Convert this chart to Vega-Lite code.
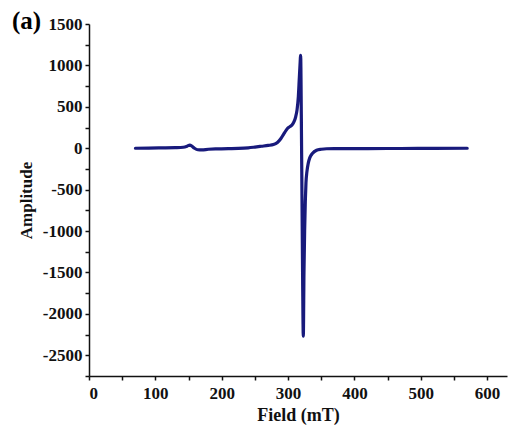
{
  "$schema": "https://vega.github.io/schema/vega-lite/v6.json",
  "autosize": "none",
  "width": 418,
  "height": 352,
  "padding": {"left": 89, "top": 24, "right": 1, "bottom": 53},
  "background": "white",
  "title": {"text": "(a)", "anchor": "start", "frame": "group", "orient": "top", "offset": 0, "dx": -77, "dy": 39, "baseline": "alphabetic", "font": "Liberation Serif", "fontSize": 25, "fontWeight": "bold", "color": "black"},
  "config": {
    "view": {"stroke": null},
    "axis": {
      "grid": false,
      "domainColor": "#111",
      "domainWidth": 1.5,
      "tickColor": "#111",
      "tickWidth": 1.5,
      "tickSize": 4,
      "labelFont": "Liberation Serif",
      "labelFontSize": 17,
      "labelFontWeight": "bold",
      "labelColor": "#111",
      "titleFont": "Liberation Serif",
      "titleFontSize": 17,
      "titleFontWeight": "bold",
      "titleColor": "#111"
    }
  },
  "data": {"values": [
    {"field": 70, "amp": 0}, {"field": 90, "amp": 2}, {"field": 110, "amp": 4}, {"field": 130, "amp": 7},
    {"field": 142, "amp": 12}, {"field": 148, "amp": 25}, {"field": 152, "amp": 38}, {"field": 155, "amp": 25},
    {"field": 159, "amp": 0}, {"field": 164, "amp": -18}, {"field": 170, "amp": -20}, {"field": 180, "amp": -12},
    {"field": 195, "amp": -8}, {"field": 210, "amp": -5}, {"field": 225, "amp": -2}, {"field": 240, "amp": 5},
    {"field": 250, "amp": 14}, {"field": 260, "amp": 24}, {"field": 270, "amp": 34}, {"field": 278, "amp": 45},
    {"field": 284, "amp": 70}, {"field": 289, "amp": 115}, {"field": 293, "amp": 165}, {"field": 297, "amp": 215},
    {"field": 300, "amp": 245}, {"field": 303, "amp": 262}, {"field": 306, "amp": 280}, {"field": 309, "amp": 320},
    {"field": 311.5, "amp": 380}, {"field": 313.5, "amp": 460}, {"field": 315.5, "amp": 620}, {"field": 317, "amp": 850},
    {"field": 318, "amp": 1000}, {"field": 319, "amp": 1120}, {"field": 320, "amp": 400}, {"field": 321, "amp": -600},
    {"field": 322, "amp": -1600}, {"field": 323, "amp": -2270}, {"field": 324, "amp": -1500}, {"field": 325, "amp": -1000},
    {"field": 326, "amp": -650}, {"field": 327, "amp": -420}, {"field": 328.5, "amp": -280}, {"field": 330.5, "amp": -180},
    {"field": 333, "amp": -110}, {"field": 337, "amp": -60}, {"field": 343, "amp": -25}, {"field": 350, "amp": -12},
    {"field": 358, "amp": -6}, {"field": 380, "amp": -5}, {"field": 420, "amp": -4}, {"field": 470, "amp": -3},
    {"field": 520, "amp": -2}, {"field": 570, "amp": 0}
  ]},
  "mark": {"type": "line", "color": "#181a7c", "strokeWidth": 3.2, "interpolate": "monotone", "strokeJoin": "round", "strokeCap": "round"},
  "encoding": {
    "x": {
      "field": "field", "type": "quantitative",
      "scale": {"domain": [0, 630], "nice": false, "zero": false},
      "axis": {
        "title": "Field (mT)",
        "titleFontSize": 18,
        "values": [0, 50, 100, 150, 200, 250, 300, 350, 400, 450, 500, 550, 600],
        "labelExpr": "datum.value % 100 === 0 ? '' + datum.value : ''",
        "labelPadding": 5,
        "titlePadding": 5
      }
    },
    "y": {
      "field": "amp", "type": "quantitative",
      "scale": {"domain": [-2750, 1500], "nice": false, "zero": false},
      "axis": {
        "title": "Amplitude",
        "values": [-2750, -2500, -2250, -2000, -1750, -1500, -1250, -1000, -750, -500, -250, 0, 250, 500, 750, 1000, 1250, 1500],
        "labelExpr": "datum.value % 500 === 0 ? '' + datum.value : ''",
        "labelPadding": 3,
        "titlePadding": 7
      }
    }
  }
}
